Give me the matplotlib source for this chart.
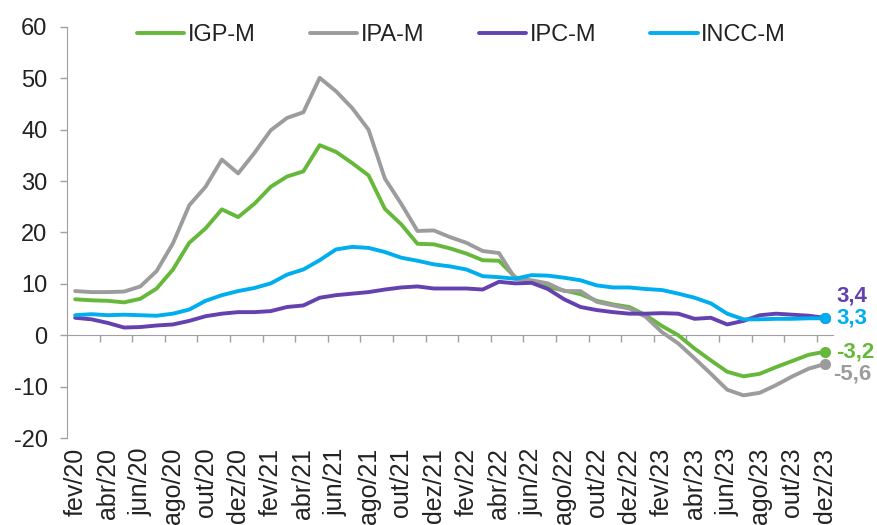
import numpy as np
import matplotlib
matplotlib.use("Agg")
import matplotlib.pyplot as plt

plt.rcParams['font.family'] = ['Liberation Sans', 'DejaVu Sans']
plt.rcParams['axes.unicode_minus'] = False

# monthly series, fev/20 .. dez/23 (12-month change, %)
igpm = [7.0, 6.8, 6.7, 6.4, 7.1, 9.1, 12.8, 18.0, 20.8, 24.5, 23.0, 25.6,
        28.9, 30.9, 31.9, 37.0, 35.7, 33.5, 31.1, 24.6, 21.6, 17.8, 17.7, 16.9,
        15.9, 14.6, 14.5, 11.3, 10.4, 9.4, 8.7, 8.0, 6.7, 6.0, 5.5, 3.9,
        1.8, 0.0, -2.6, -4.9, -7.1, -8.0, -7.5, -6.2, -5.0, -3.8, -3.2]
ipam = [8.6, 8.4, 8.4, 8.5, 9.5, 12.5, 17.9, 25.3, 28.9, 34.2, 31.5, 35.5,
        39.9, 42.3, 43.4, 50.1, 47.5, 44.2, 40.0, 30.5, 25.6, 20.3, 20.4, 19.1,
        18.0, 16.4, 16.0, 11.0, 10.7, 10.1, 8.6, 8.6, 6.5, 5.8, 5.2, 3.6,
        0.6, -1.6, -4.5, -7.5, -10.6, -11.7, -11.2, -9.7, -8.0, -6.5, -5.6]
ipcm = [3.4, 3.1, 2.4, 1.5, 1.6, 1.9, 2.1, 2.8, 3.7, 4.2, 4.5, 4.5,
        4.7, 5.5, 5.8, 7.3, 7.8, 8.1, 8.4, 8.9, 9.3, 9.5, 9.1, 9.1,
        9.1, 8.9, 10.4, 10.1, 10.2, 9.0, 7.0, 5.5, 4.9, 4.5, 4.2, 4.2,
        4.3, 4.2, 3.2, 3.4, 2.1, 2.8, 3.9, 4.2, 4.0, 3.8, 3.4]
inccm = [3.9, 4.1, 3.9, 4.0, 3.9, 3.8, 4.2, 5.0, 6.7, 7.8, 8.6, 9.2,
         10.1, 11.8, 12.8, 14.6, 16.7, 17.2, 17.0, 16.2, 15.1, 14.5, 13.8, 13.4,
         12.8, 11.5, 11.3, 11.0, 11.7, 11.6, 11.2, 10.7, 9.7, 9.3, 9.3, 9.0,
         8.8, 8.1, 7.3, 6.2, 4.2, 3.1, 3.1, 3.2, 3.2, 3.3, 3.3]

tick_labels = ['fev/20', 'abr/20', 'jun/20', 'ago/20', 'out/20', 'dez/20',
               'fev/21', 'abr/21', 'jun/21', 'ago/21', 'out/21', 'dez/21',
               'fev/22', 'abr/22', 'jun/22', 'ago/22', 'out/22', 'dez/22',
               'fev/23', 'abr/23', 'jun/23', 'ago/23', 'out/23', 'dez/23']

series = [('IGP-M', igpm, '#66b83a'),
          ('IPA-M', ipam, '#9c9c9c'),
          ('IPC-M', ipcm, '#6441af'),
          ('INCC-M', inccm, '#00aeef')]
# offsets (pt) for the end labels
end_offsets = {'IGP-M': (8, 0), 'IPA-M': (6, -7), 'IPC-M': (8, 16), 'INCC-M': (8, 0)}

fig = plt.figure(figsize=(8.77, 5.25), dpi=100)
ax = fig.add_axes([0.0764, 0.1657, 0.8736, 0.7829])

x = np.arange(len(igpm))
for name, vals, col in series:
    ax.plot(x, vals, color=col, lw=2.8, label=name, solid_capstyle='round')
    ax.plot(x[-1], vals[-1], 'o', color=col, ms=7, clip_on=False)
    dx, dy = end_offsets[name]
    ax.annotate(f"{vals[-1]:.1f}".replace('.', ','), (x[-1], vals[-1]),
                xytext=(dx, dy), textcoords='offset points', color=col,
                fontsize=16, fontweight='bold', va='center', ha='left',
                annotation_clip=False)

ax.set_xlim(-0.5, len(igpm) - 0.5)
ax.set_ylim(-20, 60)
ax.set_yticks(range(-20, 61, 10))
ax.tick_params(axis='y', labelsize=17, length=5, width=1, color='#a0a0a0',
               pad=9, labelcolor='#222222')

ax.set_xticks(x[::2])
ax.set_xticklabels(tick_labels, rotation=90, fontsize=18, color='#222222')
ax.tick_params(axis='x', length=0, pad=7)

for s in ['top', 'right', 'bottom']:
    ax.spines[s].set_visible(False)
ax.spines['left'].set_color('#a0a0a0')

# category axis line crossing at zero, tick marks between label groups
zero_ax = ax.secondary_xaxis(0.25)
zero_ax.set_xticks(np.arange(1.5, len(igpm) - 0.5, 2))
zero_ax.set_xticklabels([])
zero_ax.tick_params(length=5, width=1, color='#a0a0a0', direction='out')
zero_ax.spines['bottom'].set_color('#a0a0a0')

ax.legend(loc='center', bbox_to_anchor=(0.515, 0.98), ncol=4, frameon=False,
          fontsize=17, handlelength=2.0, handletextpad=0.15, columnspacing=2.3,
          labelcolor='#222222')

fig.savefig('out.png', dpi=100)
